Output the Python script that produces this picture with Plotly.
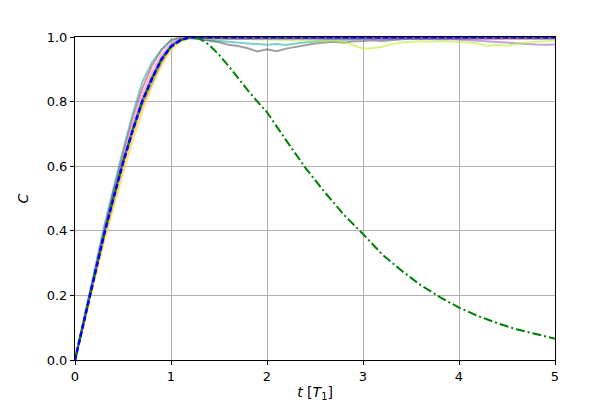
import plotly.graph_objects as go

# time grid for the noisy trajectories (step 0.1)
t_noisy = [round(i * 0.1, 1) for i in range(51)]

c_red = [0, 0.135, 0.27, 0.40, 0.52, 0.64, 0.75, 0.84, 0.91, 0.96, 0.99, 1.0, 1.0, 0.998, 0.996, 0.997, 0.995, 0.996, 0.994, 0.995,
         0.996, 0.995, 0.997, 0.996, 0.998, 0.997, 0.996, 0.997, 0.998, 0.996, 0.997, 0.998, 0.997, 0.998, 0.997, 0.996,
         0.997, 0.998, 0.997, 0.998, 0.997, 0.996, 0.997, 0.998, 0.997, 0.996, 0.997, 0.998, 0.997, 0.996, 0.997]
c_teal = [0, 0.14, 0.28, 0.41, 0.53, 0.65, 0.76, 0.86, 0.92, 0.96, 0.99, 0.998, 0.996, 0.993, 0.99, 0.988, 0.985, 0.982, 0.98, 0.978,
          0.976, 0.978, 0.975, 0.98, 0.984, 0.988, 0.99, 0.992, 0.991, 0.993, 0.995, 0.994, 0.996, 0.995, 0.997, 0.996,
          0.997, 0.996, 0.998, 0.997, 0.998, 0.997, 0.998, 0.997, 0.998, 0.997, 0.998, 0.997, 0.998, 0.997, 0.998]
c_gray = [0, 0.13, 0.27, 0.40, 0.52, 0.62, 0.71, 0.79, 0.855, 0.92, 0.975, 0.995, 0.998, 0.994, 0.99, 0.984, 0.976, 0.972, 0.965, 0.955,
          0.962, 0.956, 0.964, 0.97, 0.975, 0.98, 0.983, 0.985, 0.982, 0.987, 0.988, 0.99, 0.988, 0.991, 0.993, 0.995,
          0.994, 0.996, 0.995, 0.997, 0.996, 0.997, 0.996, 0.997, 0.996, 0.997, 0.996, 0.997, 0.996, 0.997, 0.996]
c_gold = [0, 0.12, 0.24, 0.36, 0.47, 0.575, 0.675, 0.765, 0.845, 0.91, 0.958, 0.985, 0.995, 0.998, 0.997, 0.996, 0.997, 0.996, 0.997, 0.996,
          0.997, 0.996, 0.997, 0.996, 0.997, 0.996, 0.997, 0.996, 0.997, 0.996, 0.997, 0.996, 0.997, 0.996, 0.997, 0.996,
          0.997, 0.996, 0.997, 0.996, 0.997, 0.996, 0.997, 0.996, 0.997, 0.996, 0.997, 0.996, 0.997, 0.996, 0.997]
c_orange = [0, 0.125, 0.25, 0.37, 0.48, 0.59, 0.69, 0.78, 0.86, 0.92, 0.965, 0.99, 0.998, 0.997, 0.995, 0.996, 0.994, 0.995, 0.996, 0.995,
            0.996, 0.995, 0.996, 0.995, 0.996, 0.995, 0.996, 0.995, 0.996, 0.995, 0.996, 0.995, 0.996, 0.995, 0.996, 0.995,
            0.996, 0.995, 0.996, 0.995, 0.993, 0.994, 0.993, 0.995, 0.994, 0.995, 0.996, 0.995, 0.996, 0.995, 0.996]
c_purple = [0, 0.13, 0.265, 0.39, 0.505, 0.615, 0.715, 0.805, 0.875, 0.935, 0.972, 0.992, 0.999, 0.997, 0.996, 0.997, 0.995, 0.996, 0.995, 0.996,
            0.995, 0.996, 0.995, 0.996, 0.995, 0.996, 0.995, 0.996, 0.995, 0.996, 0.995, 0.994, 0.995, 0.994, 0.995, 0.994,
            0.993, 0.994, 0.993, 0.994, 0.992, 0.99, 0.988, 0.985, 0.983, 0.982, 0.98, 0.978, 0.977, 0.976, 0.977]
c_lime = [0, 0.128, 0.26, 0.38, 0.495, 0.605, 0.705, 0.795, 0.865, 0.928, 0.968, 0.99, 0.997, 0.996, 0.995, 0.996, 0.994, 0.995, 0.993, 0.992,
          0.993, 0.991, 0.99, 0.991, 0.99, 0.989, 0.99, 0.988, 0.985, 0.975, 0.964, 0.966, 0.97, 0.978, 0.983, 0.985,
          0.987, 0.986, 0.988, 0.986, 0.985, 0.983, 0.98, 0.972, 0.976, 0.973, 0.979, 0.983, 0.985, 0.987, 0.988]
c_pink = [0, 0.132, 0.265, 0.395, 0.51, 0.625, 0.73, 0.82, 0.89, 0.945, 0.98, 0.996, 0.999, 0.998, 0.997, 0.996, 0.997, 0.996, 0.995, 0.996,
          0.995, 0.996, 0.997, 0.996, 0.995, 0.996, 0.997, 0.996, 0.995, 0.996, 0.997, 0.996, 0.995, 0.996, 0.997, 0.996,
          0.995, 0.996, 0.997, 0.996, 0.995, 0.996, 0.997, 0.996, 0.995, 0.996, 0.997, 0.996, 0.995, 0.996, 0.997]
c_royal = [0, 0.131, 0.262, 0.388, 0.503, 0.612, 0.712, 0.802, 0.872, 0.932, 0.972, 0.992, 0.998, 0.997, 0.996, 0.997, 0.996, 0.997, 0.996, 0.997,
           0.996, 0.997, 0.996, 0.997, 0.996, 0.997, 0.996, 0.997, 0.996, 0.997, 0.996, 0.997, 0.996, 0.997, 0.996, 0.997,
           0.996, 0.997, 0.996, 0.997, 0.996, 0.997, 0.996, 0.997, 0.996, 0.997, 0.996, 0.997, 0.996, 0.997, 0.996]

noisy_series = [
    ("red", c_red, "rgba(205,45,70,0.55)"),
    ("teal", c_teal, "rgba(32,178,170,0.6)"),
    ("gray", c_gray, "rgba(95,95,95,0.6)"),
    ("gold", c_gold, "rgba(255,215,60,0.5)"),
    ("orange", c_orange, "rgba(255,165,40,0.5)"),
    ("purple", c_purple, "rgba(148,80,200,0.55)"),
    ("lime", c_lime, "rgba(190,240,40,0.6)"),
    ("pink", c_pink, "rgba(255,105,180,0.5)"),
    ("royal", c_royal, "rgba(40,60,230,0.7)"),
]

# green dash-dot curve
t_green = [0, 0.1, 0.2, 0.3, 0.4, 0.5, 0.6, 0.7, 0.8, 0.9, 1.0, 1.1, 1.2, 1.3, 1.4, 1.5, 1.6, 1.7, 1.8, 1.9, 2.0,
           2.2, 2.4, 2.6, 2.8, 3.0, 3.2, 3.4, 3.6, 3.8, 4.0, 4.2, 4.4, 4.6, 4.8, 5.0]
c_green = [0, 0.13, 0.26, 0.385, 0.50, 0.61, 0.71, 0.80, 0.87, 0.93, 0.97, 0.99, 1.0, 0.995, 0.975, 0.945, 0.91, 0.872, 0.835, 0.80, 0.767,
           0.68, 0.595, 0.52, 0.45, 0.39, 0.327, 0.277, 0.232, 0.195, 0.162, 0.136, 0.114, 0.095, 0.08, 0.066]

# blue dashed curve
t_blue = [0, 0.1, 0.2, 0.3, 0.4, 0.5, 0.6, 0.7, 0.8, 0.9, 1.0, 1.1, 1.2, 5.0]
c_blue = [0, 0.13, 0.26, 0.385, 0.50, 0.61, 0.71, 0.80, 0.87, 0.93, 0.97, 0.99, 1.0, 1.0]

x_ticks = [0, 1, 2, 3, 4, 5]
y_ticks = [0.0, 0.2, 0.4, 0.6, 0.8, 1.0]

fig = go.Figure()
for name, vals, col in noisy_series:
    fig.add_trace(go.Scatter(x=t_noisy, y=vals, mode="lines", name=name,
                             line=dict(color=col, width=2)))
fig.add_trace(go.Scatter(x=t_green, y=c_green, mode="lines", name="green",
                         line=dict(color="#008000", width=2, dash="9px,3px,2px,3px")))
fig.add_trace(go.Scatter(x=t_blue, y=c_blue, mode="lines", name="blue",
                         line=dict(color="#0000ff", width=2.5, dash="5px,3px")))

axis_common = dict(showline=True, linecolor="black", linewidth=1, mirror=True,
                   ticks="outside", ticklen=4, tickcolor="black", tickwidth=1,
                   showgrid=True, gridcolor="#b0b0b0", gridwidth=1, zeroline=False,
                   tickfont=dict(family="DejaVu Sans", size=13, color="black"))

fig.update_layout(
    width=598, height=413,
    margin=dict(l=67, r=51, t=29, b=61),
    paper_bgcolor="white", plot_bgcolor="white",
    showlegend=False,
    font=dict(family="DejaVu Sans", size=13, color="black"),
    xaxis=dict(range=[0, 5], tickvals=x_ticks, ticktext=[str(v) for v in x_ticks],
               title=dict(text="<i>t</i> [<i>T</i><sub>1</sub>]", standoff=4,
                          font=dict(family="DejaVu Sans", size=14)),
               **axis_common),
    yaxis=dict(range=[0, 1], tickvals=y_ticks, ticktext=[f"{v:.1f}" for v in y_ticks],
               title=dict(text="<i>C</i>", standoff=14,
                          font=dict(family="DejaVu Sans", size=14)),
               **axis_common),
)

fig.write_html("out.html")
